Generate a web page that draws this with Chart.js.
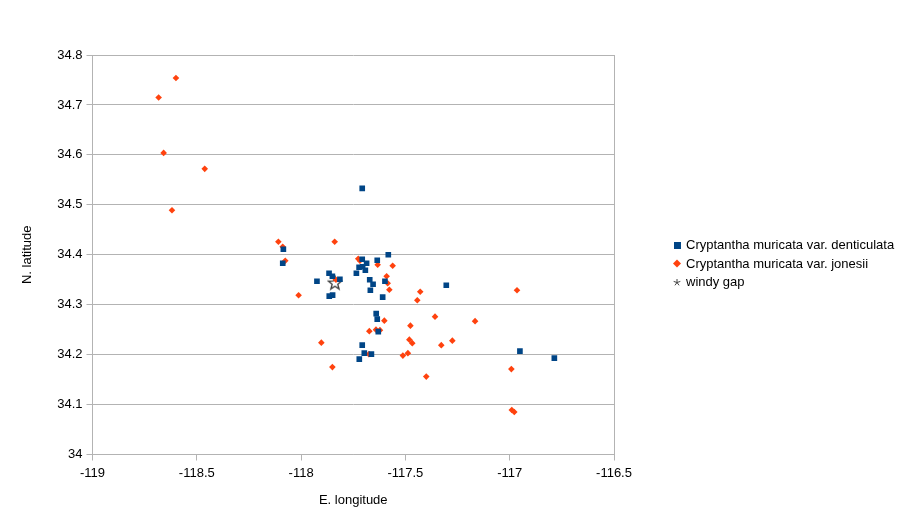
<!DOCTYPE html>
<html>
<head>
<meta charset="utf-8">
<script src="https://cdn.jsdelivr.net/npm/chart.js@4/dist/chart.umd.min.js"></script>
<style>
  html, body { margin: 0; padding: 0; background: #fff; }
  #scatter_chart { display: block; }
</style>
</head>
<body>
<canvas id="scatter_chart" width="907" height="529"></canvas>
<script>
// series labels
var seriesNames = ['Cryptantha muricata var. denticulata', 'Cryptantha muricata var. jonesii', 'windy gap'];

// var. denticulata (blue squares)
var denticulataLon = [-117.707, -118.085, -118.088, -117.582, -117.635, -117.707, -117.686, -117.722,
  -117.705, -117.692, -117.735, -117.866, -117.850, -117.814, -117.924, -117.671, -117.655, -117.598,
  -117.668, -117.865, -117.849, -117.609, -117.304, -117.640, -117.635, -117.630, -117.707, -117.697,
  -117.663, -117.721, -116.951, -116.786];
var denticulataLat = [34.533, 34.411, 34.383, 34.400, 34.389, 34.391, 34.383, 34.375,
  34.376, 34.369, 34.363, 34.363, 34.357, 34.351, 34.347, 34.350, 34.341, 34.347,
  34.329, 34.317, 34.319, 34.315, 34.339, 34.282, 34.271, 34.246, 34.219, 34.203,
  34.201, 34.191, 34.207, 34.193];

// var. jonesii (orange diamonds)
var jonesiiLon = [-118.600, -118.683, -118.659, -118.462, -118.619, -118.109, -118.088, -118.076,
  -117.839, -117.726, -117.718, -117.633, -117.561, -117.590, -117.585, -117.577, -117.833, -118.012,
  -117.429, -117.443, -117.358, -117.601, -117.476, -117.673, -117.641, -117.622, -117.481, -117.467,
  -117.903, -117.328, -117.275, -117.488, -117.512, -117.675, -117.850, -117.400, -117.166, -116.965,
  -116.992, -116.990, -116.978];
var jonesiiLat = [34.754, 34.715, 34.604, 34.572, 34.489, 34.426, 34.416, 34.388,
  34.426, 34.392, 34.388, 34.380, 34.378, 34.357, 34.343, 34.330, 34.350, 34.319,
  34.326, 34.309, 34.276, 34.268, 34.258, 34.247, 34.250, 34.249, 34.230, 34.223,
  34.224, 34.219, 34.228, 34.203, 34.198, 34.201, 34.175, 34.156, 34.267, 34.329,
  34.171, 34.089, 34.085];

// windy gap (star)
var windyGapLon = [-117.838];
var windyGapLat = [34.344];

// axis ticks
var lonTicks = [-119, -118.5, -118, -117.5, -117, -116.5];
var latTicks = [34, 34.1, 34.2, 34.3, 34.4, 34.5, 34.6, 34.7, 34.8];

Chart.defaults.font.family = '"Liberation Sans", Arial, sans-serif';
Chart.defaults.font.size = 13;
Chart.defaults.color = '#000';

function toPoints(xs, ys) {
  return xs.map(function (x, i) { return { x: x, y: ys[i] }; });
}

// outlined five point star for the windy gap marker
function makeStar(size) {
  var c = document.createElement('canvas');
  c.width = size; c.height = size;
  var g = c.getContext('2d');
  var cx = size / 2, cy = size / 2 + 0.5, ro = size / 2 - 1, ri = ro * 0.42;
  g.beginPath();
  for (var i = 0; i < 10; i++) {
    var r = i % 2 === 0 ? ro : ri;
    var a = -Math.PI / 2 + i * Math.PI / 5;
    g.lineTo(cx + r * Math.cos(a), cy + r * Math.sin(a));
  }
  g.closePath();
  g.lineWidth = 1.3;
  g.strokeStyle = '#3a3a3a';
  g.stroke();
  return c;
}

var gridGray = '#b3b3b3';

// legend drawn at the right like the original
var sideLegend = {
  id: 'sideLegend',
  afterDraw: function (chart) {
    var ctx = chart.ctx;
    var x = 677, ys = [245, 263.5, 282];
    ctx.save();
    ctx.font = '13px "Liberation Sans", Arial, sans-serif';
    ctx.textBaseline = 'middle';
    // square
    ctx.fillStyle = '#004586';
    ctx.fillRect(x - 3, ys[0] - 3, 7, 7);
    // diamond
    ctx.fillStyle = '#ff420e';
    ctx.beginPath();
    ctx.moveTo(x, ys[1] - 4); ctx.lineTo(x + 4, ys[1]); ctx.lineTo(x, ys[1] + 4); ctx.lineTo(x - 4, ys[1]);
    ctx.closePath(); ctx.fill();
    // asterisk
    ctx.strokeStyle = '#444';
    ctx.lineWidth = 1;
    for (var k = 0; k < 5; k++) {
      var a = -Math.PI / 2 + k * 2 * Math.PI / 5;
      ctx.beginPath();
      ctx.moveTo(x, ys[2] + 0.5);
      ctx.lineTo(x + 3.5 * Math.cos(a), ys[2] + 0.5 + 3.5 * Math.sin(a));
      ctx.stroke();
    }
    ctx.fillStyle = '#000';
    seriesNames.forEach(function (name, i) {
      ctx.fillText(name, 686, ys[i] + 0.5);
    });
    ctx.restore();
  }
};

var ctx = document.getElementById('scatter_chart').getContext('2d');
var myChart = new Chart(ctx, {
  type: 'scatter',
  data: {
    datasets: [
      {
        label: seriesNames[0],
        data: toPoints(denticulataLon, denticulataLat),
        pointStyle: 'rect',
        pointRadius: 4,
        backgroundColor: '#004586',
        borderColor: '#004586',
        borderWidth: 0
      },
      {
        label: seriesNames[1],
        data: toPoints(jonesiiLon, jonesiiLat),
        pointStyle: 'rectRot',
        pointRadius: 3.3,
        backgroundColor: '#ff420e',
        borderColor: '#ff420e',
        borderWidth: 0
      },
      {
        label: seriesNames[2],
        data: toPoints(windyGapLon, windyGapLat),
        pointStyle: makeStar(16),
        backgroundColor: '#333',
        borderColor: '#333'
      }
    ]
  },
  options: {
    responsive: false,
    animation: false,
    layout: { padding: { top: 55, right: 293, left: 0, bottom: 0 } },
    plugins: {
      legend: { display: false },
      tooltip: { enabled: false }
    },
    scales: {
      x: {
        type: 'linear',
        min: -119,
        max: -116.5,
        afterFit: function (scale) { scale.height = 74.5; },
        afterBuildTicks: function (scale) {
          scale.ticks = lonTicks.map(function (v) { return { value: v }; });
        },
        ticks: {
          padding: 5,
          color: '#000',
          maxRotation: 0,
          callback: function (v) { return String(v); }
        },
        grid: {
          color: function (c) {
            return (c.tick && (c.tick.value === -116.5 || c.tick.value === -119)) ? gridGray : 'rgba(0,0,0,0)';
          },
          tickColor: gridGray,
          tickLength: 6
        },
        border: { color: gridGray },
        title: {
          display: true,
          text: 'E. longitude',
          color: '#000',
          padding: { top: 0, bottom: 21 }
        }
      },
      y: {
        type: 'linear',
        min: 34,
        max: 34.8,
        afterFit: function (scale) { scale.width = 92.5; },
        afterBuildTicks: function (scale) {
          scale.ticks = latTicks.map(function (v) { return { value: v }; });
        },
        ticks: {
          padding: 4,
          color: '#000',
          callback: function (v) { return String(v); }
        },
        grid: {
          color: gridGray,
          tickColor: gridGray,
          tickLength: 6
        },
        border: { color: gridGray },
        title: {
          display: true,
          text: 'N. latitude',
          color: '#000',
          padding: { top: 20, bottom: 0 }
        }
      }
    }
  },
  plugins: [sideLegend]
});
</script>
</body>
</html>
